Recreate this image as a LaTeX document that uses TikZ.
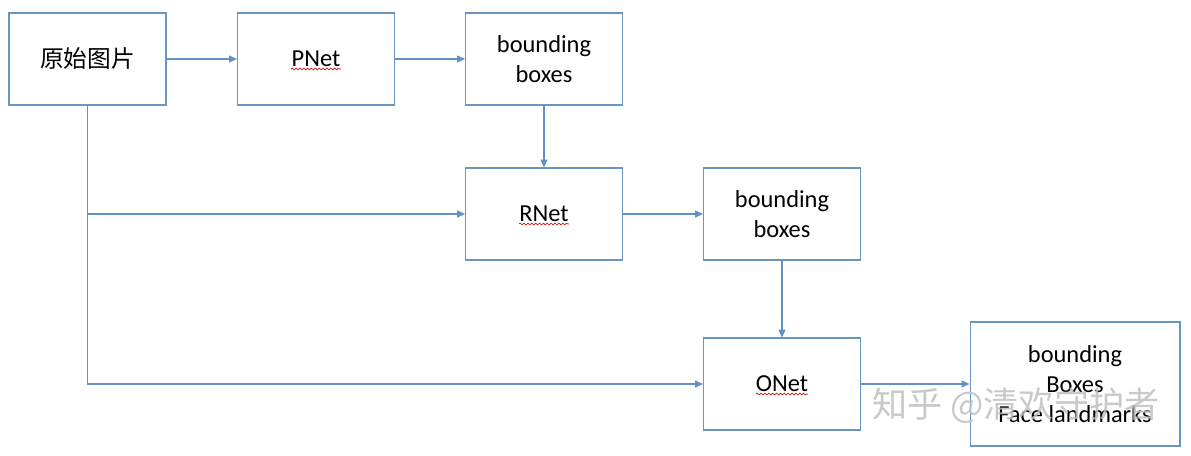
\documentclass[tikz,border=0pt]{standalone}
\usepackage{fontspec}
\setmainfont{Carlito}
\newfontfamily\cjkfont{Noto Sans CJK SC}
\usetikzlibrary{arrows.meta, calc, decorations.pathmorphing}

\definecolor{boxblue}{RGB}{104,150,190}
\definecolor{linkblue}{RGB}{96,146,198}

\tikzset{
    box/.style={draw=boxblue, line width=0.6pt, minimum width=3.14cm, minimum height=1.84cm,
                align=center, font=\fontsize{13.9}{17}\selectfont},
    bigbox/.style={box, minimum width=4.2cm, minimum height=2.48cm},
    link/.style={draw=linkblue, line width=0.6pt, -{Triangle[length=4.5pt,width=4pt]}},
    spellmark/.style={red!80!black, line width=0.35pt, decorate,
                decoration={snake, amplitude=0.5pt, segment length=2.2pt}}
}

\begin{document}
\begin{tikzpicture}[x=0.02cm, y=-0.02cm]
            \useasboundingbox (0,0) rectangle (1191,456);

            % Draw the boxes
            \node[box, font=\cjkfont\fontsize{13.5}{17}\selectfont] (img) at (87.5,59) {原始图片};
            \node[box] (pnet) at (316,59) {PNet};
            \node[box] (bbA) at (544,59) {bounding\\boxes};
            \node[box] (rnet) at (544,214) {RNet};
            \node[box] (bbB) at (782,214) {bounding\\boxes};
            \node[box] (onet) at (782,384) {ONet};
            \node[bigbox] (out) at (1075,384) {bounding\\Boxes\\Face landmarks};

            % Draw the arrows
            \draw[link] (img) -- (pnet);
            \draw[link] (pnet) -- (bbA);
            \draw[link] (bbA) -- (rnet);
            \draw[link] (rnet) -- (bbB);
            \draw[link] (bbB) -- (onet);
            \draw[link] (onet) -- (out);
            \draw[link] (img.south) |- (rnet.west);
            \draw[link] (img.south) |- (onet.west);

            % Spell check marks
            \draw[spellmark] ($(pnet.center)+(-25,10)$) -- ++(50,0);
            \draw[spellmark] ($(rnet.center)+(-25,10)$) -- ++(50,0);
            \draw[spellmark] ($(onet.center)+(-26,10)$) -- ++(52,0);

            % Watermark
            \node[gray!50, opacity=0.85, font=\cjkfont\fontsize{20}{20}\selectfont] (mark) at (1016,406) {知乎 @清欢守护者};

        \end{tikzpicture}
\end{document}
